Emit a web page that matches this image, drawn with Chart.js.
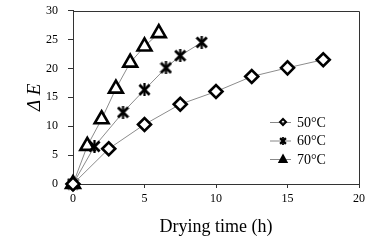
<!DOCTYPE html>
<html>
<head>
<meta charset="utf-8">
<script src="https://cdn.jsdelivr.net/npm/chart.js@4.4.1/dist/chart.umd.min.js"></script>
<style>
  html, body { margin:0; padding:0; background:#fff; }
  #wrap { width:381px; height:248px; }
</style>
</head>
<body>
<div id="wrap"><canvas id="c"></canvas></div>
<script>
/* data */
const seriesLabels = ["50\u00B0C", "60\u00B0C", "70\u00B0C"];

const time50 = [0, 2.5, 5, 7.5, 10, 12.5, 15, 17.5];
const dE50   = [0, 6.1, 10.3, 13.8, 16.0, 18.6, 20.1, 21.5];

const time60 = [0, 1.5, 3.5, 5, 6.5, 7.5, 9];
const dE60   = [0, 6.5, 12.4, 16.3, 20.1, 22.2, 24.5];

const time70 = [0, 1, 2, 3, 4, 5, 6];
const dE70   = [0, 6.6, 11.2, 16.5, 21.0, 23.8, 26.1];

const xTicks = [0, 5, 10, 15, 20];
const yTicks = [0, 5, 10, 15, 20, 25, 30];

function pts(xs, ys){
   return xs.map((x,i)=>({x:x, y:ys[i]}));
}

/* Excel like star: X plus vertical bar */
function starImage(size, lw){
   let cv = document.createElement("canvas");
   cv.width = size; cv.height = size;
   let g = cv.getContext("2d");
   let m = lw/2;
   g.strokeStyle = "#000";
   g.lineWidth = lw;
   g.beginPath();
   g.moveTo(m, m); g.lineTo(size-m, size-m);
   g.moveTo(size-m, m); g.lineTo(m, size-m);
   g.stroke();
   g.lineWidth = lw*0.8;
   g.beginPath();
   g.moveTo(size/2, 0); g.lineTo(size/2, size);
   g.stroke();
   return cv;
}

const starBig = starImage(13, 2.8);
const starSmall = starImage(8, 2.2);

const serif = "'Liberation Serif', 'Times New Roman', serif";

/* frame round plot area */
const framePlugin = {
   id: "frame",
   afterDatasetsDraw(chart){
      let a = chart.chartArea, ctx = chart.ctx;
      ctx.save();
      ctx.strokeStyle = "#333";
      ctx.lineWidth = 1;
      ctx.beginPath();
      ctx.moveTo(Math.round(a.left)+0.5, Math.round(a.top)+0.5);
      ctx.lineTo(Math.round(a.right)+0.5, Math.round(a.top)+0.5);
      ctx.lineTo(Math.round(a.right)+0.5, Math.round(a.bottom)+0.5);
      ctx.stroke();
      ctx.restore();
   }
};

/* legend: short line with small marker, then text */
const legendPlugin = {
   id: "boxLegend",
   afterDraw(chart){
      let ctx = chart.ctx;
      let x0 = 270, x1 = 291, yStart = 122, step = 18.5;
      ctx.save();
      chart.data.datasets.forEach(function(ds, i){
         let y = yStart + i*step;
         ctx.strokeStyle = "#888";
         ctx.lineWidth = 1;
         ctx.beginPath();
         ctx.moveTo(x0, y+0.5); ctx.lineTo(x1, y+0.5);
         ctx.stroke();
         let cx = 283;
         ctx.fillStyle = "#000";
         ctx.strokeStyle = "#000";
         ctx.lineWidth = 2;
         if(i === 0){
            ctx.beginPath();
            ctx.moveTo(cx, y-3); ctx.lineTo(cx+3, y);
            ctx.lineTo(cx, y+3); ctx.lineTo(cx-3, y);
            ctx.closePath(); ctx.stroke();
         }else if(i === 1){
            ctx.drawImage(starSmall, cx-4, y-3.5);
         }else{
            ctx.beginPath();
            ctx.moveTo(cx, y-3.5); ctx.lineTo(cx+3.5, y+3);
            ctx.lineTo(cx-3.5, y+3); ctx.closePath();
            ctx.fill(); ctx.stroke();
         }
         ctx.fillStyle = "#000";
         ctx.font = "14px " + serif;
         ctx.textBaseline = "middle";
         ctx.textAlign = "left";
         ctx.fillText(ds.label, 297, y+1);
      });
      ctx.restore();
   }
};

const lineGrey = "#8c8c8c";

new Chart(document.getElementById("c"), {
   type: "scatter",
   data: {
      datasets: [
         {
            label: seriesLabels[0],
            data: pts(time50, dE50),
            showLine: true,
            clip: false,
            borderColor: lineGrey,
            borderWidth: 1,
            pointStyle: "rectRot",
            pointRadius: 6.5,
            pointBorderWidth: 2.6,
            pointBorderColor: "#000",
            pointBackgroundColor: "#fff"
         },
         {
            label: seriesLabels[1],
            data: pts(time60, dE60),
            showLine: true,
            clip: false,
            borderColor: lineGrey,
            borderWidth: 1,
            pointStyle: starBig,
            pointRadius: 7
         },
         {
            label: seriesLabels[2],
            data: pts(time70, dE70),
            showLine: true,
            clip: false,
            borderColor: lineGrey,
            borderWidth: 1,
            pointStyle: "triangle",
            pointRadius: 8,
            pointBorderWidth: 2.6,
            pointBorderColor: "#000",
            pointBackgroundColor: "#fff"
         }
      ]
   },
   options: {
      responsive: true,
      maintainAspectRatio: false,
      animation: false,
      layout: { padding: { top: 8, right: 22, left: 0, bottom: 0 } },
      plugins: {
         legend: { display: false },
         tooltip: { enabled: false }
      },
      scales: {
         x: {
            type: "linear",
            min: 0, max: 20,
            afterBuildTicks(axis){ axis.ticks = xTicks.map(v=>({value:v})); },
            afterFit(axis){ axis.height = 64; axis.paddingLeft = 0; axis.paddingRight = 0; },
            grid: { drawOnChartArea: false, drawTicks: true, tickLength: 4, color: "#333" },
            border: { color: "#333" },
            ticks: { color: "#000", font: { family: serif, size: 12 }, padding: 4, maxRotation: 0 },
            title: {
               display: true,
               text: "Drying time (h)",
               color: "#000",
               font: { family: serif, size: 18 },
               padding: { top: 0, bottom: 10 }
            }
         },
         y: {
            min: 0, max: 30,
            afterBuildTicks(axis){ axis.ticks = yTicks.map(v=>({value:v})); },
            afterFit(axis){ axis.width = 73; axis.paddingTop = 0; axis.paddingBottom = 0; },
            grid: { drawOnChartArea: false, drawTicks: true, tickLength: 5, color: "#333" },
            border: { color: "#333" },
            ticks: { color: "#000", font: { family: serif, size: 12 }, padding: 10 },
            title: {
               display: true,
               text: "\u0394 E",
               color: "#000",
               font: { family: serif, size: 19, style: "italic" },
               padding: { top: 24, bottom: 0 }
            }
         }
      }
   },
   plugins: [framePlugin, legendPlugin]
});
</script>
</body>
</html>
